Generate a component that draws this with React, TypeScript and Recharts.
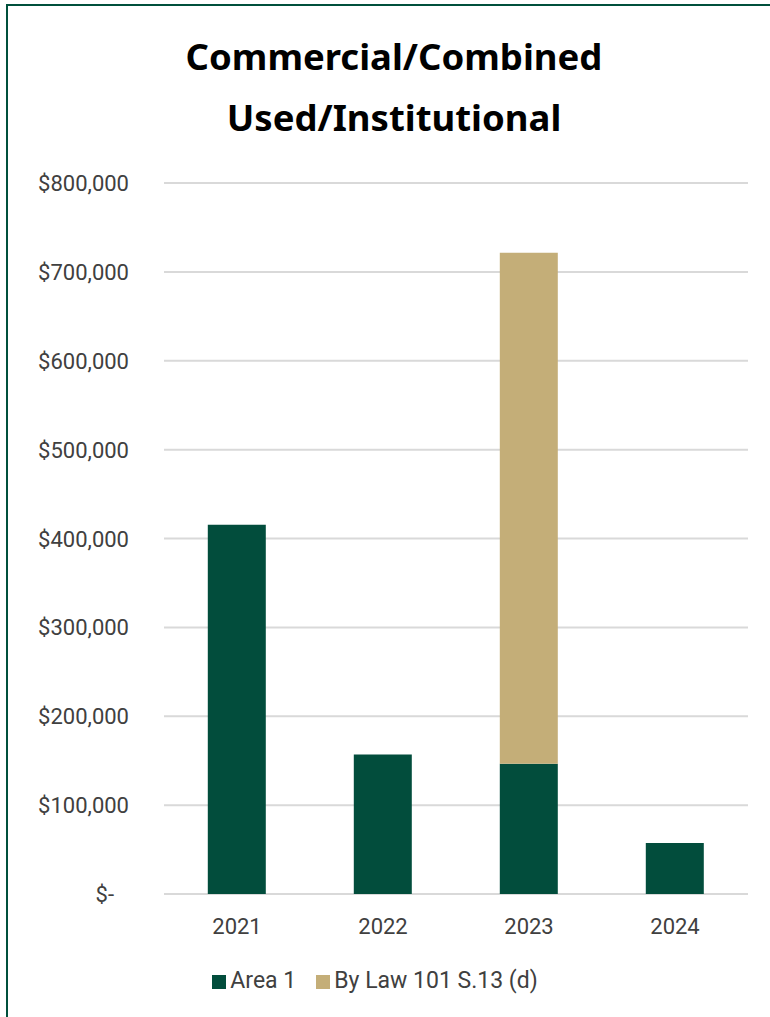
import { BarChart, Bar, XAxis, YAxis, CartesianGrid, Legend } from "recharts";

const YEARS = ["2021", "2022", "2023", "2024"];
const AREA_1 = [415500, 157000, 146500, 57500];
const BY_LAW = [0, 0, 575000, 0];
const Y_TICKS = [0, 100000, 200000, 300000, 400000, 500000, 600000, 700000, 800000];

const GREEN = "#024d3c";
const TAN = "#c4ae78";
const FONT = "Roboto, sans-serif";

const data = YEARS.map((year, i) => ({ year, area1: AREA_1[i], bylaw: BY_LAW[i] || null }));

function YTick({ x, y, payload }: { x?: number; y?: number; payload?: { value: number } }) {
  const v = payload?.value ?? 0;
  const label = v === 0 ? "$-" : "$" + v.toLocaleString("en-US");
  return (
    <text
      x={(x ?? 0) - 27 - (v === 0 ? 15 : 0)}
      y={y}
      dy={8}
      textAnchor="end"
      fill="#404040"
      fontSize={22}
      fontFamily={FONT}
    >
      {label}
    </text>
  );
}

export default function App() {
  return (
    <div style={{ position: "absolute", top: 0, left: 0, width: 770, height: 1017, overflow: "hidden", background: "#fff" }}>
      <div
        style={{
          position: "absolute", left: 6, top: 4, width: 900, height: 1100,
          border: "2px solid #00503c",
        }}
      />
      <div
        style={{
          position: "absolute", top: 26, left: 0, width: 788, textAlign: "center",
          fontFamily: "'Noto Sans', sans-serif", fontWeight: 700, fontSize: 36.5,
          lineHeight: "61px", color: "#000",
        }}
      >
        Commercial/Combined
        <br />
        Used/Institutional
      </div>
      <div style={{ position: "absolute", top: 0, left: 0 }}>
        <BarChart
          width={770}
          height={1017}
          data={data}
          margin={{ top: 183, right: 22, left: 0, bottom: 34 }}
          barCategoryGap="30%"
        >
          <CartesianGrid vertical={false} stroke="#d9d9d9" strokeWidth={2} />
          <XAxis
            dataKey="year"
            axisLine={false}
            tickLine={false}
            height={62}
            tick={{ fill: "#404040", fontSize: 22, fontFamily: FONT }}
            dy={16}
          />
          <YAxis
            width={164}
            domain={[0, 800000]}
            ticks={Y_TICKS}
            interval={0}
            axisLine={false}
            tickLine={false}
            tick={<YTick />}
          />
          <Legend
            verticalAlign="bottom"
            iconType="square"
            iconSize={14}
            wrapperStyle={{ fontFamily: FONT, fontSize: 23, left: 0, width: 770, top: 967 }}
            formatter={(value) => <span style={{ color: "#404040", marginRight: 10 }}>{value}</span>}
          />
          <Bar dataKey="area1" name="Area 1" stackId="a" fill={GREEN} isAnimationActive={false} />
          <Bar dataKey="bylaw" name="By Law 101 S.13 (d)" stackId="a" fill={TAN} isAnimationActive={false} />
        </BarChart>
      </div>
    </div>
  );
}
